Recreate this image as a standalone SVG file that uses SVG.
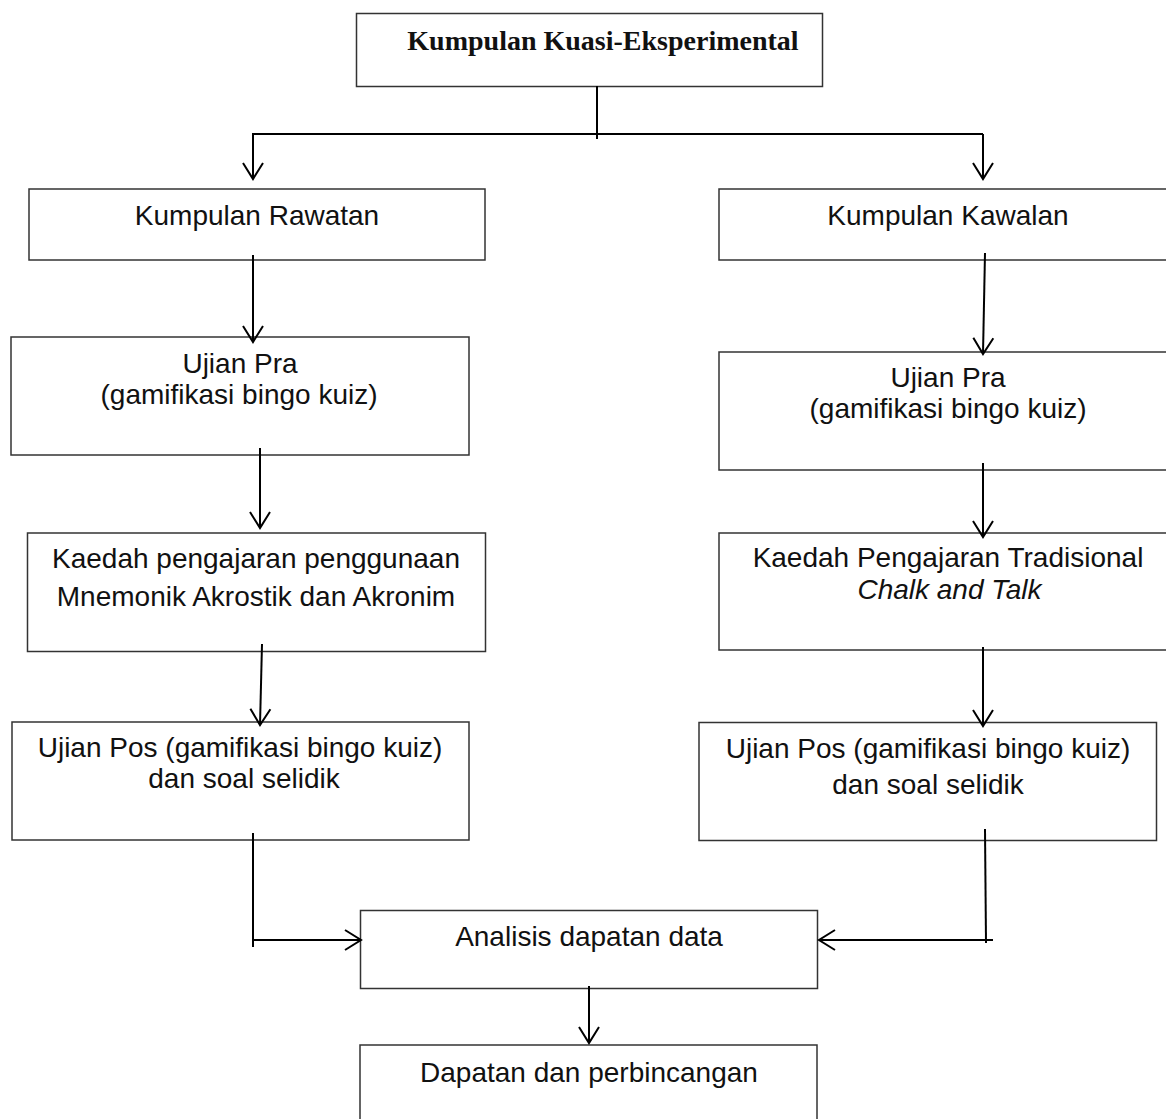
<svg xmlns="http://www.w3.org/2000/svg" width="1166" height="1119" viewBox="0 0 1166 1119">
  <style>
    .box { fill: #ffffff; stroke: #333333; stroke-width: 1.5; }
    .lbl { font-family: "Liberation Sans", Arial, sans-serif; font-size: 28px; fill: #111111; text-anchor: middle; }
    .title { font-family: "Liberation Serif", "Times New Roman", serif; font-size: 28px; font-weight: bold; fill: #111111; text-anchor: middle; }
    .it { font-style: italic; }
    .wire { fill: none; stroke: #000000; stroke-width: 2; }
    .arrow { fill: none; stroke: #000000; stroke-width: 2; marker-end: url(#vhead); }
  </style>
  <defs>
    <marker id="vhead" markerUnits="userSpaceOnUse" markerWidth="24" markerHeight="24" viewBox="-18 -12 20 24" refX="0" refY="0" orient="auto">
      <path d="M-16,-10 L0,0 L-16,10" fill="none" stroke="#000000" stroke-width="2"/>
    </marker>
  </defs>
  <rect width="1166" height="1119" fill="#ffffff"/>

  <g id="node-kuasi">
    <rect class="box" x="356.5" y="13.5" width="466" height="73"/>
    <text class="title" x="603" y="50">Kumpulan Kuasi-Eksperimental</text>
  </g>

  <g id="node-rawatan">
    <rect class="box" x="29" y="189" width="456" height="71"/>
    <text class="lbl" x="257" y="225">Kumpulan Rawatan</text>
  </g>

  <g id="node-kawalan">
    <rect class="box" x="719" y="189" width="470" height="71"/>
    <text class="lbl" x="948" y="225">Kumpulan Kawalan</text>
  </g>

  <g id="node-pra-rawatan">
    <rect class="box" x="11" y="337" width="458" height="118"/>
    <text class="lbl" x="240" y="373">Ujian Pra</text>
    <text class="lbl" x="239" y="404">(gamifikasi bingo kuiz)</text>
  </g>

  <g id="node-pra-kawalan">
    <rect class="box" x="719" y="352" width="470" height="118"/>
    <text class="lbl" x="948" y="387">Ujian Pra</text>
    <text class="lbl" x="948" y="418">(gamifikasi bingo kuiz)</text>
  </g>

  <g id="node-kaedah-rawatan">
    <rect class="box" x="27.5" y="533" width="458" height="118.5"/>
    <text class="lbl" x="256" y="568">Kaedah pengajaran penggunaan</text>
    <text class="lbl" x="256" y="606">Mnemonik Akrostik dan Akronim</text>
  </g>

  <g id="node-kaedah-kawalan">
    <rect class="box" x="719" y="533" width="470" height="117"/>
    <text class="lbl" x="948" y="567">Kaedah Pengajaran Tradisional</text>
    <text class="lbl it" x="949.5" y="599">Chalk and Talk</text>
  </g>

  <g id="node-pos-rawatan">
    <rect class="box" x="12" y="722" width="457" height="118"/>
    <text class="lbl" x="240" y="757">Ujian Pos (gamifikasi bingo kuiz)</text>
    <text class="lbl" x="244" y="788">dan soal selidik</text>
  </g>

  <g id="node-pos-kawalan">
    <rect class="box" x="699" y="722.5" width="457.5" height="118"/>
    <text class="lbl" x="928" y="758">Ujian Pos (gamifikasi bingo kuiz)</text>
    <text class="lbl" x="928" y="794">dan soal selidik</text>
  </g>

  <g id="node-analisis">
    <rect class="box" x="360.5" y="910.5" width="457" height="78"/>
    <text class="lbl" x="589" y="946">Analisis dapatan data</text>
  </g>

  <g id="node-dapatan">
    <rect class="box" x="360" y="1045" width="457" height="90"/>
    <text class="lbl" x="589" y="1082">Dapatan dan perbincangan</text>
  </g>

  <g id="connectors">
    <!-- split from the main group into the two branches -->
    <line class="wire" x1="597" y1="86" x2="597" y2="139"/>
    <line class="wire" x1="252" y1="134" x2="983" y2="134"/>
    <line class="arrow" x1="253" y1="134" x2="253" y2="179"/>
    <line class="arrow" x1="983" y1="134" x2="983" y2="179"/>

    <!-- treatment branch -->
    <line class="arrow" x1="253" y1="255" x2="253" y2="342"/>
    <line class="arrow" x1="260" y1="448" x2="260" y2="528"/>
    <line class="arrow" x1="262" y1="644" x2="260" y2="725"/>

    <!-- control branch -->
    <line class="arrow" x1="985" y1="253" x2="983" y2="354"/>
    <line class="arrow" x1="983" y1="463" x2="983" y2="537"/>
    <line class="arrow" x1="983" y1="647" x2="983" y2="726"/>

    <!-- both branches into the analysis step -->
    <polyline class="wire" points="253,833 253,947"/>
    <line class="arrow" x1="253" y1="940" x2="361" y2="940"/>
    <polyline class="wire" points="985,829 986,943"/>
    <line class="arrow" x1="993" y1="940" x2="819" y2="940"/>

    <!-- analysis to findings -->
    <line class="arrow" x1="589" y1="986" x2="589" y2="1043"/>
  </g>
</svg>
